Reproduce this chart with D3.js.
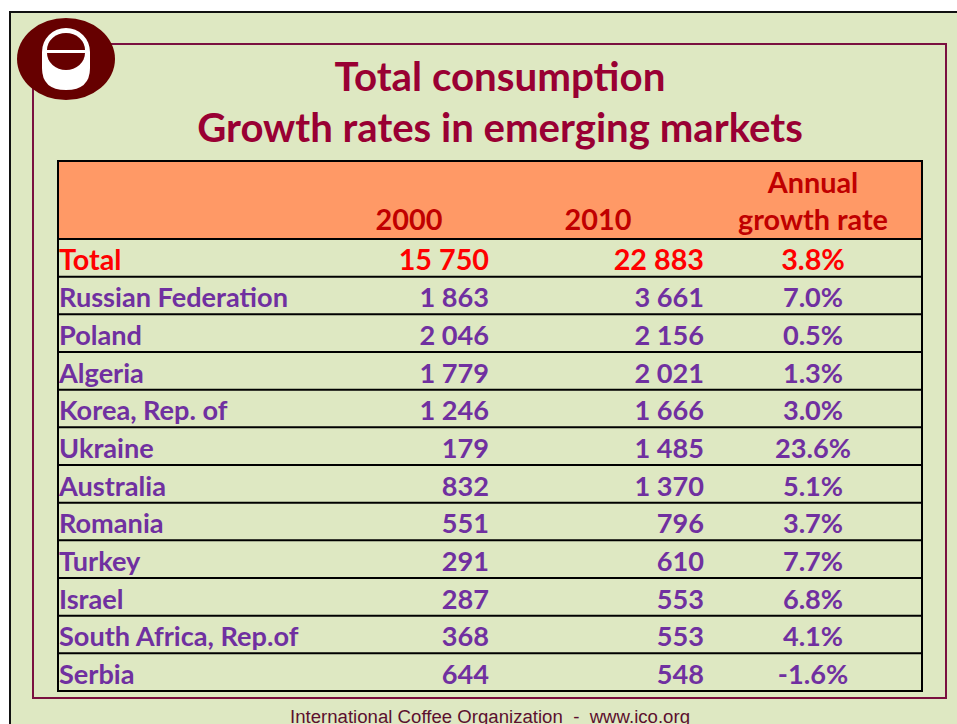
<!DOCTYPE html>
<html><head><meta charset="utf-8">
<script src="https://cdn.jsdelivr.net/npm/d3@7"></script>
<style>
html,body{margin:0;padding:0;background:#fff;overflow:hidden}
svg{display:block}
</style></head>
<body>
<script>
const titleLines = ["Total consumption", "Growth rates in emerging markets"];
const headers = ["2000", "2010", "Annual", "growth rate"];
const countries = ["Total","Russian Federation","Poland","Algeria","Korea, Rep. of","Ukraine","Australia","Romania","Turkey","Israel","South Africa, Rep.of","Serbia"];
const values2000 = [15750,1863,2046,1779,1246,179,832,551,291,287,368,644];
const values2010 = [22883,3661,2156,2021,1666,1485,1370,796,610,553,553,548];
const growthRates = [3.8,7.0,0.5,1.3,3.0,23.6,5.1,3.7,7.7,6.8,4.1,-1.6];
const footerText = "International Coffee Organization  -  www.ico.org";

const W = 957, H = 724;
const bg = "#DEE8C2", maroon = "#7A1040", titleCol = "#990033",
      headFill = "#FF9966", headText = "#C00000", purple = "#7030A0", red = "#FF0000";
const font = "Lato, 'Open Sans', sans-serif";

const svg = d3.select("body").append("svg").attr("width", W).attr("height", H);

// page background and borders
svg.append("rect").attr("x", 10).attr("y", 12).attr("width", W).attr("height", H)
  .attr("fill", bg).attr("stroke", "#111").attr("stroke-width", 2);
svg.append("rect").attr("x", 33).attr("y", 44).attr("width", 913).attr("height", 654)
  .attr("fill", "none").attr("stroke", maroon).attr("stroke-width", 2);

// logo
const logo = svg.append("g");
logo.append("ellipse").attr("cx", 66).attr("cy", 59).attr("rx", 49).attr("ry", 41).attr("fill", "#660000");
logo.append("path").attr("d", "M42,52 A24,24 0 0 1 90,52 L90,68 Q90,90 66,90 Q42,90 42,68 Z").attr("fill", "#fff");
logo.append("path").attr("d", "M47,50 A19,17 0 0 1 85,50 Z").attr("fill", "#660000");
logo.append("path").attr("d", "M47,53 L85,53 A19,17 0 0 1 47,53 Z").attr("fill", "#660000");

function fit(sel, target) {
  const w = sel.node().getComputedTextLength();
  const fs = parseFloat(sel.attr("font-size"));
  const nfs = fs * target / w;
  sel.attr("font-size", nfs);
  return nfs;
}

// title
const t1 = svg.append("text").attr("x", 500).attr("y", 91).attr("text-anchor", "middle")
  .attr("font-family", font).attr("font-weight", "bold").attr("font-size", 36).attr("fill", titleCol).text(titleLines[0]);
fit(t1, 331);
const t2 = svg.append("text").attr("x", 500).attr("y", 142).attr("text-anchor", "middle")
  .attr("font-family", font).attr("font-weight", "bold").attr("font-size", 36).attr("fill", titleCol).text(titleLines[1]);
fit(t2, 606);

// table geometry
const tableLeft = 58, tableRight = 922, tableTop = 161, headBottom = 239, tableBottom = 691;
const y = d3.scaleLinear().domain([0, countries.length]).range([headBottom, tableBottom]);

svg.append("rect").attr("x", tableLeft).attr("y", tableTop).attr("width", tableRight - tableLeft)
  .attr("height", headBottom - tableTop).attr("fill", headFill);

// header text
const hdr = svg.append("g").attr("font-family", font).attr("font-weight", "bold").attr("fill", headText).attr("text-anchor", "middle");
const h4 = hdr.append("text").attr("x", 813).attr("y", 230).attr("font-size", 26).text(headers[3]);
const hfs = fit(h4, 150);
hdr.append("text").attr("x", 409).attr("y", 230).attr("font-size", hfs).text(headers[0]);
hdr.append("text").attr("x", 598).attr("y", 230).attr("font-size", hfs).text(headers[1]);
hdr.append("text").attr("x", 813).attr("y", 193).attr("font-size", hfs).text(headers[2]);

// rows
const fmtN = v => d3.format(",")(v).replace(/,/g, " ");
const fmtG = v => d3.format(".1f")(v).replace("\u2212", "-") + "%";

const probe = svg.append("text").attr("font-family", font).attr("font-weight", "bold").attr("font-size", 24).text("Russian Federation");
const rowFs = fit(probe, 229);
probe.remove();

const rows = svg.append("g").selectAll("g").data(countries).join("g")
  .attr("font-family", font).attr("font-weight", "bold")
  .attr("font-size", (d, i) => i === 0 ? rowFs * 1.06 : rowFs)
  .attr("fill", (d, i) => i === 0 ? red : purple);

rows.append("text").attr("x", 59).attr("y", (d, i) => y(i) + 30.5).text(d => d);
rows.append("text").attr("x", 489).attr("y", (d, i) => y(i) + 30.5).attr("text-anchor", "end").text((d, i) => fmtN(values2000[i]));
rows.append("text").attr("x", 704).attr("y", (d, i) => y(i) + 30.5).attr("text-anchor", "end").text((d, i) => fmtN(values2010[i]));
rows.append("text").attr("x", 813).attr("y", (d, i) => y(i) + 30.5).attr("text-anchor", "middle").text((d, i) => fmtG(growthRates[i]));

// row lines
svg.append("g").selectAll("line").data(d3.range(1, countries.length + 1)).join("line")
  .attr("x1", tableLeft).attr("x2", tableRight).attr("y1", d => y(d)).attr("y2", d => y(d))
  .attr("stroke", "#000").attr("stroke-width", 2);
svg.append("line").attr("x1", tableLeft).attr("x2", tableRight).attr("y1", headBottom).attr("y2", headBottom)
  .attr("stroke", "#000").attr("stroke-width", 2);
svg.append("rect").attr("x", tableLeft).attr("y", tableTop).attr("width", tableRight - tableLeft)
  .attr("height", tableBottom - tableTop).attr("fill", "none").attr("stroke", "#000").attr("stroke-width", 2);

// footer
const ft = svg.append("text").attr("x", 490).attr("y", 723).attr("text-anchor", "middle")
  .attr("font-family", "'Liberation Sans', Arial, sans-serif").attr("font-size", 16)
  .attr("fill", "#5C0F2E").attr("xml:space", "preserve").style("white-space", "pre").text(footerText);
fit(ft, 400);
</script>
</body></html>
